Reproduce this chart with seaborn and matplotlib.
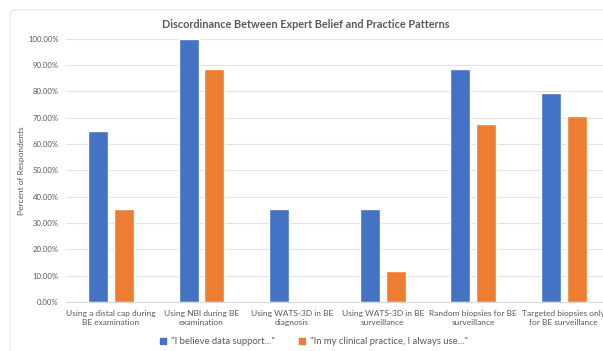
import matplotlib
matplotlib.use("Agg")
import matplotlib.pyplot as plt
import matplotlib.patches as mpatches
import seaborn as sns
import pandas as pd
from matplotlib.ticker import FuncFormatter

categories = [
    "Using a distal cap during\nBE examination",
    "Using NBI during BE\nexamination",
    "Using WATS-3D in BE\ndiagnosis",
    "Using WATS-3D in BE\nsurveillance",
    "Random biopsies for BE\nsurveillance",
    "Targeted biopsies only\nfor BE surveillance",
]
series_names = ['"I believe data support..."', '"In my clinical practice, I always use..."']
belief = [64.71, 100.0, 35.29, 35.29, 88.24, 79.41]
practice = [35.29, 88.24, 0.0, 11.76, 67.65, 70.59]
colors = ["#4472C4", "#ED7D31"]

df = pd.DataFrame({
    "category": categories * 2,
    "series": [series_names[0]] * len(categories) + [series_names[1]] * len(categories),
    "value": belief + practice,
})

sns.set_theme(style="white")
plt.rcParams["font.family"] = ["Lato", "DejaVu Sans"]

W, H = 603, 351
fig = plt.figure(figsize=(W / 100, H / 100), dpi=100)
fig.patch.set_facecolor("white")

# light chart-area frame
frame = mpatches.FancyBboxPatch((10 / W, -0.05), 1.2, (H - 10) / H + 0.05,
                                boxstyle="round,pad=0,rounding_size=0.01",
                                transform=fig.transFigure, facecolor="none",
                                edgecolor="#e6e6e6", linewidth=0.8)
fig.patches.append(frame)

ax = fig.add_axes([65.7 / W, (H - 302) / H, (609 - 65.7) / W, (302 - 38.5) / H])
sns.barplot(data=df, x="category", y="value", hue="series", palette=colors,
            width=0.571, gap=0.23, ax=ax, legend=False, saturation=1)

ax.set_xlim(-0.5, 5.5)
ax.set_ylim(0, 100)
ax.set_yticks(range(0, 101, 10))
ax.yaxis.set_major_formatter(FuncFormatter(lambda v, p: f"{v:.2f}%"))
ax.grid(axis="y", color="#e3e3e3", linewidth=0.8)
ax.set_axisbelow(True)
for s in ["top", "right", "left"]:
    ax.spines[s].set_visible(False)
ax.spines["bottom"].set_color("#d9d9d9")
ax.spines["bottom"].set_linewidth(0.8)
ax.tick_params(axis="y", length=0, labelsize=5.6, labelcolor="#595959", pad=5)
ax.tick_params(axis="x", length=0, labelsize=6, labelcolor="#595959", pad=5.5)
for lbl in ax.get_xticklabels():
    lbl.set_linespacing(1.45)
ax.set_xlabel("")
ax.set_ylabel("Percent of Respondents", fontsize=6, color="#595959")
ax.yaxis.set_label_coords((25 - 65.7) / (609 - 65.7), 0.5)

fig.text(306 / W, 1 - 24 / H, "Discordinance Between Expert Belief and Practice Patterns",
         ha="center", va="center", fontsize=7.8, fontweight="bold", color="#595959")

handles = [mpatches.Patch(color=c, label=n) for c, n in zip(colors, series_names)]
fig.legend(handles=handles, loc="center", bbox_to_anchor=(314 / W, 1 - 342 / H),
           ncol=2, frameon=False, fontsize=6.8, handlelength=0.6, handleheight=0.6,
           handletextpad=0.5, columnspacing=2.6, labelcolor="#595959")

fig.savefig("out.png", dpi=100)
